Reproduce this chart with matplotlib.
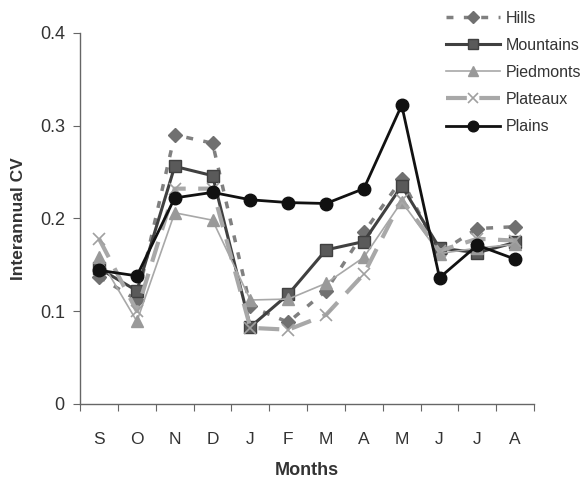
import matplotlib
matplotlib.use("Agg")
import matplotlib.pyplot as plt
import numpy as np

plt.rcParams['font.family'] = ['Liberation Sans', 'DejaVu Sans']

months = ['S', 'O', 'N', 'D', 'J', 'F', 'M', 'A', 'M', 'J', 'J', 'A']
hills      = [0.137, 0.112, 0.290, 0.281, 0.105, 0.088, 0.122, 0.185, 0.242, 0.163, 0.189, 0.191]
mountains  = [0.146, 0.122, 0.256, 0.246, 0.083, 0.118, 0.166, 0.175, 0.235, 0.168, 0.163, 0.174]
piedmonts  = [0.158, 0.089, 0.206, 0.198, 0.112, 0.113, 0.130, 0.158, 0.218, 0.162, 0.168, 0.172]
plateaux   = [0.178, 0.100, 0.232, 0.232, 0.082, 0.080, 0.096, 0.140, 0.220, 0.165, 0.178, 0.176]
plains     = [0.144, 0.138, 0.222, 0.228, 0.220, 0.217, 0.216, 0.232, 0.322, 0.136, 0.171, 0.156]

fig = plt.figure(figsize=(5.85, 4.82), dpi=100)
ax = fig.add_axes([0.137, 0.162, 0.776, 0.770])

x = np.arange(len(months))

ax.plot(x, hills, linestyle=(0, (2, 3)), color='#808080', lw=2.5,
        marker='D', ms=7, mfc='#707070', mec='#707070', label='Hills')
ax.plot(x, mountains, linestyle='-', color='#404040', lw=2.2,
        marker='s', ms=9, mfc='#5a5a5a', mec='#404040', label='Mountains')
ax.plot(x, piedmonts, linestyle='-', color='#a8a8a8', lw=1.2,
        marker='^', ms=8, mfc='#999999', mec='#999999', label='Piedmonts')
ax.plot(x, plateaux, linestyle=(0, (5, 3)), color='#a8a8a8', lw=3,
        marker='x', ms=8, mew=1.2, mfc='#a0a0a0', mec='#a0a0a0', label='Plateaux')
ax.plot(x, plains, linestyle='-', color='#111111', lw=2,
        marker='o', ms=9, mfc='#111111', mec='#111111', label='Plains')

ax.set_xlim(-0.5, len(months) - 0.5)
ax.set_ylim(0, 0.4)
ax.set_yticks([0, 0.1, 0.2, 0.3, 0.4])
ax.set_yticklabels(['0', '0.1', '0.2', '0.3', '0.4'], fontsize=13, color='#333333')

ax.set_xticks(np.arange(-0.5, len(months), 1.0))
ax.set_xticklabels([])
ax.set_xticks(x, minor=True)
ax.set_xticklabels(months, minor=True, fontsize=12.5, color='#333333')
ax.tick_params(axis='x', which='minor', length=0, pad=20)
ax.tick_params(axis='x', which='major', length=5, direction='out', color='#666666')
ax.tick_params(axis='y', length=5, direction='out', color='#666666', pad=6)

for s in ['top', 'right']:
    ax.spines[s].set_visible(False)
for s in ['left', 'bottom']:
    ax.spines[s].set_color('#666666')
    ax.spines[s].set_linewidth(1)

ax.set_xlabel('Months', fontsize=13, fontweight='bold', color='#333333', labelpad=11)
ax.set_ylabel('Interannual CV', fontsize=12.5, fontweight='bold', color='#333333', labelpad=10)

leg = fig.legend(loc='upper left', bbox_to_anchor=(0.762, 0.978),
                 frameon=False, fontsize=11.5, handlelength=3.4, labelspacing=0.76,
                 handletextpad=0.35, borderaxespad=0, borderpad=0, markerscale=0.85)
for t in leg.get_texts():
    t.set_color('#333333')

fig.savefig('out.png', dpi=100)
